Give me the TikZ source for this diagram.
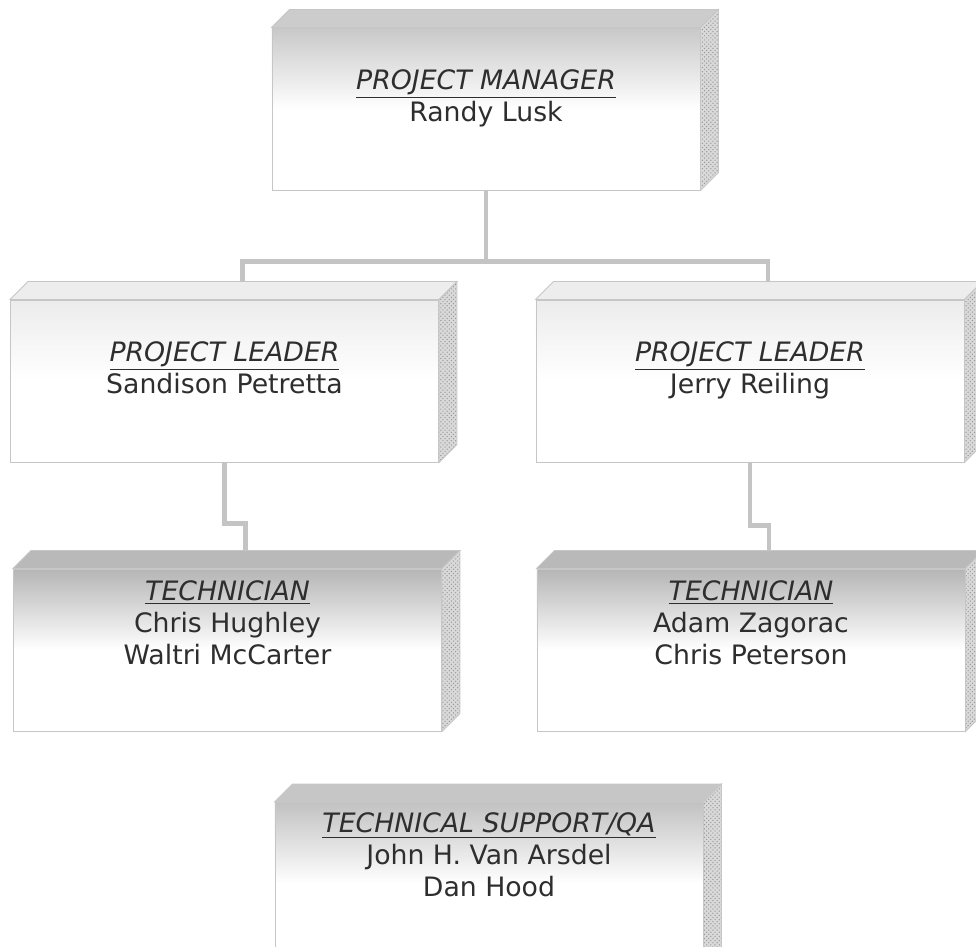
\documentclass[tikz,border=0pt]{standalone}
\usepackage{fontspec}
\setmainfont{DejaVu Sans}
\usetikzlibrary{positioning,calc,patterns}
\tikzset{
	card/.style={draw=gray!45,line width=0.6pt,minimum width=10.7cm,minimum height=4.05cm,inner sep=0pt,top color=#1,bottom color=white,middle color=white},
	txt/.style={inner sep=0pt,align=center,font=\fontsize{19}{22.7}\selectfont,text=black!82},
	link/.style={draw=gray!46,line width=3.5pt},
	side/.style={draw=gray!45,line width=0.6pt,preaction={fill=gray!30},pattern=crosshatch dots,pattern color=gray!80},
}
\begin{document}
\begin{tikzpicture}[x=0.025cm,y=-0.025cm]
		\useasboundingbox (0,0) rectangle (976,947);
		\clip (0,0) rectangle (976,947);
		% front faces
		\node[card=gray!43] (pm) at (486,109) {};
		\node[card=gray!15] (plA) at (224.5,381) {};
		\node[card=gray!15] (plB) at (750,381) {};
		\node[card=gray!58] (tcA) at (227.5,650) {};
		\node[card=gray!58] (tcB) at (751,650) {};
		\node[card=gray!48] (qa) at (489,883.5) {};
		% top and side faces
		\foreach \n/\c in {pm/gray!40,plA/gray!14,plB/gray!14,tcA/gray!55,tcB/gray!55,qa/gray!45}{
			\filldraw[fill=\c,draw=gray!45,line width=0.6pt] (\n.north west) -- ++(18,-18) -- ($(\n.north east)+(18,-18)$) -- (\n.north east) -- cycle;
			\path[side] (\n.north east) -- ++(18,-18) -- ($(\n.south east)+(18,-18)$) -- (\n.south east) -- cycle;
			\coordinate (\n-top) at ($(\n.north)+(18,-18)$);
		}
		% labels
		\node[txt,below=1.05cm of pm.north] (pmT) {\underline{\textit{PROJECT MANAGER}}\\Randy Lusk};
		\node[txt,below=1.05cm of plA.north] (plAT) {\underline{\textit{PROJECT LEADER}}\\Sandison Petretta};
		\node[txt,below=1.05cm of plB.north] (plBT) {\underline{\textit{PROJECT LEADER}}\\Jerry Reiling};
		\node[txt,below=0.3cm of tcA.north] (tcAT) {\underline{\textit{TECHNICIAN}}\\Chris Hughley\\Waltri McCarter};
		\node[txt,below=0.3cm of tcB.north] (tcBT) {\underline{\textit{TECHNICIAN}}\\Adam Zagorac\\Chris Peterson};
		\node[txt,below=0.25cm of qa.north] (qaT) {\underline{\textit{TECHNICAL SUPPORT/QA}}\\John H. Van Arsdel\\Dan Hood};
		% connectors
		\draw[link] (pm.south) -- ++(0,71) coordinate (split);
		\draw[link] (plA-top) |- (split) -| (plB-top);
		\draw[link] (plA.south) -- ++(0,61) -| (tcA-top);
		\draw[link] (plB.south) -- ++(0,63) -| (tcB-top);
\end{tikzpicture}
\end{document}
